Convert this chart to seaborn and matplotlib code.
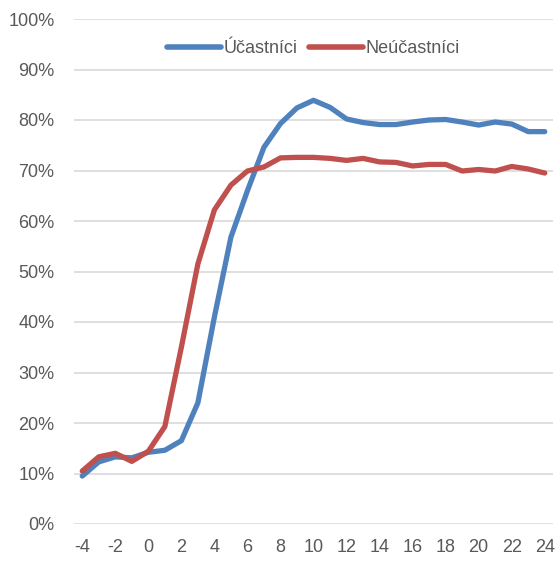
import matplotlib
matplotlib.use("Agg")
import matplotlib.pyplot as plt
import seaborn as sns
import pandas as pd
import numpy as np
from matplotlib.ticker import FuncFormatter

months = list(range(-4, 25))
ucastnici = [9.5, 12.3, 13.3, 13.1, 14.2, 14.6, 16.5, 24.0, 41.0, 56.8, 66.0, 74.6, 79.3, 82.4,
             83.9, 82.5, 80.2, 79.5, 79.1, 79.1, 79.6, 80.0, 80.1, 79.6, 79.0, 79.6, 79.2, 77.7, 77.7]
neucastnici = [10.5, 13.3, 14.0, 12.4, 14.4, 19.3, 35.0, 51.5, 62.2, 67.1, 69.9, 70.7, 72.5, 72.6,
               72.6, 72.4, 72.0, 72.4, 71.7, 71.6, 70.9, 71.2, 71.2, 69.9, 70.2, 69.9, 70.8, 70.3, 69.5]
series_names = ["Účastníci", "Neúčastníci"]
colors = ["#4F81BD", "#C0504D"]

df = pd.DataFrame({
    "month": months * 2,
    "value": ucastnici + neucastnici,
    "group": [series_names[0]] * len(months) + [series_names[1]] * len(months),
})

sns.set_theme(style="white")
plt.rcParams["font.family"] = ["Liberation Sans", "DejaVu Sans"]
plt.rcParams["axes.unicode_minus"] = False
fs = 13

fig = plt.figure(figsize=(5.55, 5.61), dpi=100)
ax = fig.add_axes([74/555, 1-524/561, (553-74)/555, (524-19)/561])

sns.lineplot(data=df, x="month", y="value", hue="group", palette=colors,
             hue_order=series_names, linewidth=3.8, ax=ax, legend=True)

ax.set_xlim(-4.5, 24.5)
ax.set_ylim(0, 100)
ax.set_xticks(list(range(-4, 25, 2)))
ax.set_yticks(list(range(0, 101, 10)))
ax.yaxis.set_major_formatter(FuncFormatter(lambda v, p: f"{int(v)}%"))
ax.grid(axis="y", color="#d9d9d9", linewidth=1.2)
ax.set_axisbelow(True)
for s in ax.spines.values():
    s.set_visible(False)
ax.tick_params(axis="both", length=0, labelsize=fs, labelcolor="#595959")
ax.tick_params(axis="y", pad=14)
ax.tick_params(axis="x", pad=11)
ax.set_xlabel("")
ax.set_ylabel("")

leg = ax.legend(loc="upper center", bbox_to_anchor=(0.5, 0.99), ncol=2, frameon=False,
                fontsize=fs, handlelength=3.0, handletextpad=0.15, columnspacing=0.6,
                labelcolor="#595959")
for line in leg.get_lines():
    line.set_linewidth(4)
    line.set_solid_capstyle("round")

fig.savefig("out.png", dpi=100)
